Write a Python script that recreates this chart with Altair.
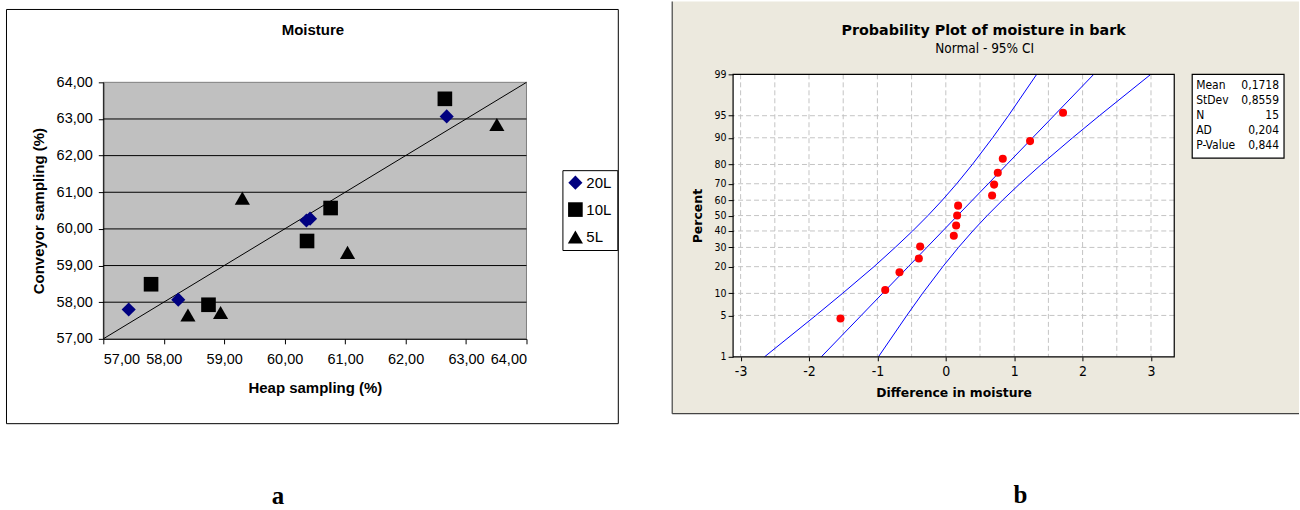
import altair as alt
import pandas as pd
from statistics import NormalDist

# ---------------- data: panel a (Moisture) ----------------
series_names = ["20L", "10L", "5L"]
heap_20L = [57.42, 58.24, 60.36, 60.42, 62.68]
conv_20L = [57.80, 58.07, 60.23, 60.28, 63.07]
heap_10L = [57.79, 58.74, 60.37, 60.76, 62.65]
conv_10L = [58.49, 57.93, 59.67, 60.57, 63.55]
heap_5L = [58.40, 58.94, 59.30, 61.04, 63.51]
conv_5L = [57.65, 57.72, 60.84, 59.36, 62.85]
diag_x = [57, 64]
diag_y = [57, 64]
left_ticks = [57, 58, 59, 60, 61, 62, 63, 64]
left_grid = [58, 59, 60, 61, 62, 63]

# ---------------- data: panel b (probability plot) ----------------
diff_values = [-1.54, -0.886, -0.677, -0.394, -0.375, 0.117, 0.151, 0.166,
               0.180, 0.677, 0.706, 0.760, 0.833, 1.232, 1.714]
pct_values = [4.5, 11.0, 17.5, 24.0, 30.5, 37.0, 43.5, 50.0,
              56.5, 63.0, 69.5, 76.0, 82.5, 89.0, 95.5]
curve_pct = [1, 5, 10, 20, 30, 40, 50, 60, 70, 80, 90, 95, 99]
left_band = [-2.65, -1.90, -1.51, -1.05, -0.74, -0.485, -0.261, -0.051,
             0.159, 0.388, 0.684, 0.915, 1.329]
fit_line = [-1.82, -1.236, -0.925, -0.548, -0.277, -0.045, 0.172, 0.389,
            0.621, 0.892, 1.269, 1.580, 2.163]
right_band = [-0.985, -0.57, -0.34, -0.044, 0.185, 0.395, 0.605, 0.829,
              1.083, 1.396, 1.854, 2.245, 2.997]
pct_ticks = [1, 5, 10, 20, 30, 40, 50, 60, 70, 80, 90, 95, 99]
x_ticks_b = [-3, -2, -1, 0, 1, 2, 3]
x_grid_b = [-3, -2.5, -2, -1.5, -1, -0.5, 0, 0.5, 1, 1.5, 2, 2.5, 3]
stat_names = ["Mean", "StDev", "N", "AD", "P-Value"]
stat_values = ["0,1718", "0,8559", "15", "0,204", "0,844"]

nd = NormalDist()
def z(p):
    return nd.inv_cdf(p / 100.0)

one = pd.DataFrame({"k": [0]})

# =============== panel a ===============
LW, LH, LTOP = 424, 265, 8
LF = "Liberation Sans"
comma = "replace(format(datum.value, '.2f'), '.', ',')"

pts = pd.DataFrame({
    "series": ["20L"] * 5 + ["10L"] * 5 + ["5L"] * 5,
    "heap": heap_20L + heap_10L + heap_5L,
    "conv": conv_20L + conv_10L + conv_5L,
})
diag = pd.DataFrame({"heap": diag_x, "conv": diag_y})

xs = alt.Scale(domain=[57, 64], nice=False, zero=False)
ys = alt.Scale(domain=[57, 64], nice=False, zero=False, range=[LH, LTOP])
xax = alt.Axis(values=left_ticks, labelExpr=comma, title="Heap sampling (%)", grid=False,
               domainColor="black", tickColor="black", tickSize=5, labelFont=LF,
               labelFontSize=14.5, labelColor="black", labelPadding=9, titleFont=LF,
               titleFontSize=15, titleFontWeight="bold", titlePadding=14, titleColor="black",
               zindex=1)
yax = alt.Axis(values=left_ticks, labelExpr=comma, title="Conveyor sampling (%)", grid=False,
               domainColor="black", tickColor="black", tickSize=5, labelFont=LF,
               labelFontSize=14.5, labelColor="black", labelPadding=6, titleFont=LF,
               titleFontSize=15, titleFontWeight="bold", titlePadding=10, titleColor="black",
               zindex=1)
X = alt.X("heap:Q", scale=xs, axis=xax)
Y = alt.Y("conv:Q", scale=ys, axis=yax)

plot_a = alt.Chart(one).mark_rect(fill="#C0C0C0", stroke="#808080", strokeWidth=1).encode(
    x=alt.value(0), x2=alt.value(LW), y=alt.value(LTOP), y2=alt.value(LH))
grid_a = alt.Chart(pd.DataFrame({"conv": left_grid})).mark_rule(
    color="black", strokeWidth=1).encode(y=Y)
line_a = alt.Chart(diag).mark_line(color="black", strokeWidth=1).encode(x=X, y=Y)
pts_a = alt.Chart(pts).mark_point(filled=True, opacity=1, strokeWidth=0).encode(
    x=X, y=Y,
    shape=alt.Shape("series:N", scale=alt.Scale(domain=series_names,
                    range=["diamond", "square", "triangle-up"]),
                    legend=alt.Legend(title=None, orient="none", legendX=460, legendY=96,
                                      direction="vertical", strokeColor="black",
                                      fillColor="white", padding=5, rowPadding=11,
                                      symbolSize=55, labelFont=LF, labelFontSize=15,
                                      labelColor="black", labelOffset=3,
                                      symbolStrokeWidth=0)),
    color=alt.Color("series:N", scale=alt.Scale(domain=series_names,
                    range=["#000080", "#000000", "#000000"]), legend=alt.Legend(title=None)),
    size=alt.Size("series:N", scale=alt.Scale(domain=series_names, range=[200, 230, 220]),
                  legend=None),
)
frame_a = alt.Chart(one).mark_rect(filled=False, stroke="black", strokeWidth=1).encode(
    x=alt.value(-97), x2=alt.value(516), y=alt.value(-65), y2=alt.value(350))
title_a = alt.Chart(one).mark_text(text="Moisture", font=LF, fontSize=15, fontWeight="bold",
                                   color="black").encode(x=alt.value(210), y=alt.value(-44))
lab_a = alt.Chart(one).mark_text(text="a", font="Liberation Serif", fontSize=25,
                                 fontWeight="bold", color="black").encode(
    x=alt.value(175), y=alt.value(422))

left = alt.layer(frame_a, plot_a, grid_a, line_a, pts_a, title_a, lab_a).properties(
    width=LW, height=LH, view=alt.ViewBackground(strokeWidth=0))

# =============== panel b ===============
RW, RH = 442, 283
RF = "DejaVu Sans"
RFC = "DejaVu Sans Condensed"
xsb = alt.Scale(domain=[-3.11, 3.34], nice=False, zero=False)
ysb = alt.Scale(domain=[z(1), z(99)], nice=False, zero=False)
xaxb = alt.Axis(values=x_ticks_b, labelExpr="'' + datum.value", title="Difference in moisture",
                grid=False, domain=False, tickColor="black", tickSize=4, labelFont=RFC,
                labelFontSize=14, labelColor="black", labelPadding=4, titleFont=RF,
                titleFontSize=12.4, titleFontWeight="bold", titlePadding=8, titleColor="black",
                zindex=1)
yaxb = alt.Axis(values=[z(p) for p in pct_ticks],
                labelExpr="format(cumulativeNormal(datum.value) * 100, '.0f')",
                title="Percent", grid=False, domain=False, tickColor="black", tickSize=5,
                labelFont=RFC, labelFontSize=10.5, labelColor="black", labelPadding=2,
                titleFont=RF, titleFontSize=12.5, titleFontWeight="bold", titlePadding=10,
                titleColor="black", zindex=1)
XB = alt.X("x:Q", scale=xsb, axis=xaxb)
YB = alt.Y("z:Q", scale=ysb, axis=yaxb)

panel_b = alt.Chart(one).mark_rect(fill="#ECE9DE").encode(
    x=alt.value(-61), x2=alt.value(567), y=alt.value(-73), y2=alt.value(340))
panel_left = alt.Chart(one).mark_rule(color="#444444", strokeWidth=1.2).encode(
    x=alt.value(-61), y=alt.value(-73), y2=alt.value(340))
panel_bottom = alt.Chart(one).mark_rule(color="#444444", strokeWidth=1.2).encode(
    x=alt.value(-61), x2=alt.value(567), y=alt.value(340))
plot_bg = alt.Chart(one).mark_rect(fill="white").encode(
    x=alt.value(0), x2=alt.value(RW), y=alt.value(0), y2=alt.value(RH))
vgrid = alt.Chart(pd.DataFrame({"x": x_grid_b})).mark_rule(
    color="#C4C4C4", strokeDash=[5, 3], strokeWidth=1).encode(x=XB)
hgrid = alt.Chart(pd.DataFrame({"z": [z(p) for p in pct_ticks[1:-1]]})).mark_rule(
    color="#C4C4C4", strokeDash=[5, 3], strokeWidth=1).encode(y=YB)

curves = pd.DataFrame({
    "curve": ["lo"] * len(curve_pct) + ["fit"] * len(curve_pct) + ["hi"] * len(curve_pct),
    "x": left_band + fit_line + right_band,
    "z": [z(p) for p in curve_pct] * 3,
    "o": list(range(len(curve_pct))) * 3,
})
lines_b = alt.Chart(curves).mark_line(color="#0000FF", strokeWidth=1).encode(
    x=XB, y=YB, detail="curve:N", order="o:Q")
pts_b = alt.Chart(pd.DataFrame({"x": diff_values, "z": [z(p) for p in pct_values]})).mark_circle(
    color="#FF0000", size=65, opacity=1).encode(x=XB, y=YB)
border_b = alt.Chart(one).mark_rect(filled=False, stroke="black", strokeWidth=1.2).encode(
    x=alt.value(0), x2=alt.value(RW), y=alt.value(0), y2=alt.value(RH))

box = alt.Chart(one).mark_rect(fill="white", stroke="black", strokeWidth=1.2).encode(
    x=alt.value(460), x2=alt.value(552), y=alt.value(0), y2=alt.value(84))
stat_n = alt.Chart(one).mark_text(text=stat_names, align="left", baseline="middle",
                                  lineHeight=15, font=RFC, fontSize=12, color="black").encode(
    x=alt.value(464), y=alt.value(11))
stat_v = alt.Chart(one).mark_text(text=stat_values, align="right", baseline="middle",
                                  lineHeight=15, font=RFC, fontSize=12, color="black").encode(
    x=alt.value(547), y=alt.value(11))

title_b = alt.Chart(one).mark_text(text="Probability Plot of moisture in bark", font=RF,
                                   fontSize=14.3, fontWeight="bold", color="black").encode(
    x=alt.value(251), y=alt.value(-43))
sub_b = alt.Chart(one).mark_text(text="Normal - 95% CI", font=RFC, fontSize=13.5,
                                 color="black").encode(x=alt.value(252), y=alt.value(-25))
lab_b = alt.Chart(one).mark_text(text="b", font="Liberation Serif", fontSize=25,
                                 fontWeight="bold", color="black").encode(
    x=alt.value(288), y=alt.value(421))

right = alt.layer(panel_b, panel_left, panel_bottom, plot_bg, vgrid, hgrid, lines_b, pts_b,
                  border_b, box, stat_n, stat_v, title_b, sub_b, lab_b).properties(
    width=RW, height=RH, view=alt.ViewBackground(strokeWidth=0))

chart = alt.hconcat(left, right, spacing=52).properties(
    padding={"left": 5.5, "top": 0, "right": 0, "bottom": 0}, background="white")

chart.save("out.html", embed_options={"renderer": "svg", "actions": False})
